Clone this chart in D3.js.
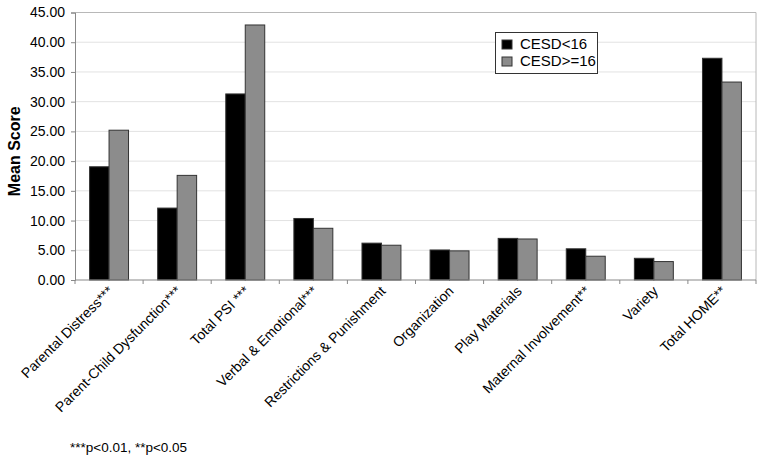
<!DOCTYPE html>
<html><head><meta charset="utf-8">
<script src="https://cdn.jsdelivr.net/npm/d3@7"></script>
<style>body{margin:0;background:#fff;} svg{display:block;font-family:"Liberation Sans",Arial,sans-serif;}</style>
</head><body>
<svg id="c" width="762" height="463"></svg>
<script>
const categories = ["Parental Distress***","Parent-Child Dysfunction***","Total PSI ***","Verbal & Emotional***","Restrictions & Punishment","Organization","Play Materials","Maternal Involvement**","Variety","Total HOME**"];
const seriesNames = ["CESD<16","CESD>=16"];
const low = [19.05,12.1,31.3,10.35,6.2,5.05,7.0,5.25,3.65,37.3];
const high = [25.2,17.6,42.9,8.7,5.85,4.9,6.9,4.0,3.1,33.3];
const yTicks = [0,5,10,15,20,25,30,35,40,45];
const footnote = "***p<0.01, **p<0.05";
const colors = ["#000000","#8c8c8c"];

const svg = d3.select("#c");
const L=75,R=756,T=12.5,B=280;
const x = d3.scaleBand().domain(categories).range([L,R]).paddingInner(0).paddingOuter(0);
const y = d3.scaleLinear().domain([0,45]).range([B,T]);
const bw = x.bandwidth()*0.286;

// gridlines
svg.append("g").selectAll("line").data(yTicks.slice(1)).join("line")
  .attr("x1",L).attr("x2",R).attr("y1",d=>y(d)).attr("y2",d=>y(d))
  .attr("stroke","#e2e2e2").attr("stroke-width",1);
// plot border top/right
svg.append("path").attr("d",`M${L},${T}H${R}V${B}`).attr("fill","none").attr("stroke","#b8b8b8").attr("stroke-width",1);

// bars
const data = categories.map((c,i)=>({c,vals:[low[i],high[i]]}));
const g = svg.append("g");
data.forEach(d=>{
  const cx = x(d.c)+x.bandwidth()/2;
  d.vals.forEach((v,j)=>{
    g.append("rect").attr("x",cx-bw+j*bw).attr("y",y(v)).attr("width",bw).attr("height",y(0)-y(v))
      .attr("fill",colors[j]).attr("stroke","#333").attr("stroke-width",1);
  });
});

// y axis
const ya = svg.append("g").attr("transform",`translate(${L},0)`)
  .call(d3.axisLeft(y).tickValues(yTicks).tickFormat(d3.format(".2f")).tickSize(4).tickPadding(6));
ya.select(".domain").attr("stroke","#888");
ya.selectAll(".tick line").attr("stroke","#888");
ya.selectAll("text").attr("font-size",14).attr("fill","#000").attr("font-family","Liberation Sans, Arial, sans-serif");

// x axis
const xa = svg.append("g").attr("transform",`translate(0,${B})`);
xa.append("line").attr("x1",L).attr("x2",R).attr("stroke","#888");
const bounds = d3.range(categories.length+1).map(i=>L+i*x.bandwidth());
xa.selectAll("line.t").data(bounds).join("line").attr("class","t")
  .attr("x1",d=>d).attr("x2",d=>d).attr("y1",0).attr("y2",4).attr("stroke","#888");
xa.selectAll("text").data(categories).join("text")
  .attr("transform",d=>`translate(${x(d)+x.bandwidth()/2+5},${12}) rotate(-45)`)
  .attr("text-anchor","end").attr("font-size",14).attr("fill","#000").text(d=>d);

// y title
svg.append("text").attr("transform",`translate(20,${(T+B)/2+5}) rotate(-90)`)
  .attr("text-anchor","middle").attr("font-size",16).attr("font-weight","bold").text("Mean Score");

// legend
const lg = svg.append("g");
lg.append("rect").attr("x",495.5).attr("y",32.5).attr("width",102).attr("height",41).attr("fill","#fff").attr("stroke","#333");
seriesNames.forEach((s,i)=>{
  lg.append("rect").attr("x",502).attr("y",40+i*17).attr("width",10).attr("height",9).attr("fill",colors[i]).attr("stroke","#333");
  lg.append("text").attr("x",520).attr("y",49+i*17).attr("font-size",15).text(s);
});

// footnote
svg.append("text").attr("x",70).attr("y",452).attr("font-size",13.5).text(footnote);
</script>
</body></html>
